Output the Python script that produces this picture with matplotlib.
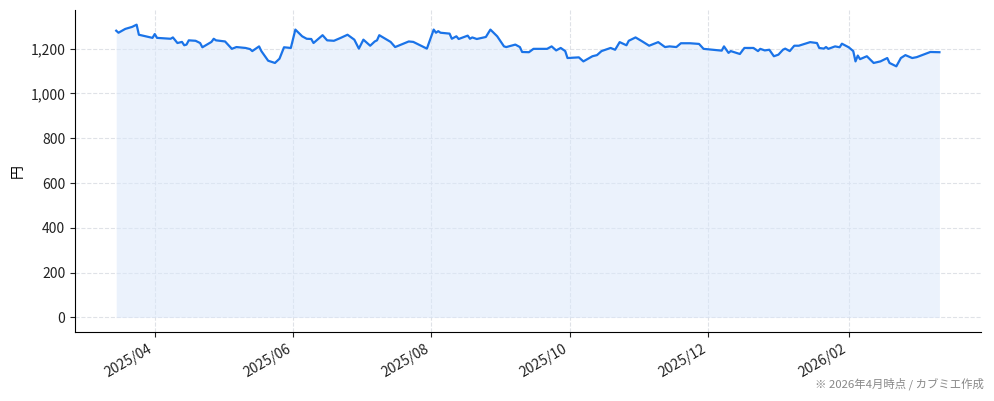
import matplotlib
matplotlib.use("Agg")
import matplotlib.pyplot as plt
import matplotlib.dates as mdates
import matplotlib.ticker as mticker
import pandas as pd

plt.rcParams['font.family'] = ['Noto Sans CJK JP', 'DejaVu Sans']

# 株価（円）: 図から読み取った概算値
dates = [
    "2025-03-15", "2025-03-16", "2025-03-19", "2025-03-22", "2025-03-24", "2025-03-25",
    "2025-03-28", "2025-03-31", "2025-04-01", "2025-04-02", "2025-04-08", "2025-04-09",
    "2025-04-11", "2025-04-13", "2025-04-14", "2025-04-15", "2025-04-16", "2025-04-19",
    "2025-04-21", "2025-04-22", "2025-04-24", "2025-04-26", "2025-04-27", "2025-04-28",
    "2025-05-02", "2025-05-05", "2025-05-07", "2025-05-11", "2025-05-13", "2025-05-14",
    "2025-05-17", "2025-05-18", "2025-05-21", "2025-05-24", "2025-05-26", "2025-05-28",
    "2025-05-31", "2025-06-02", "2025-06-05", "2025-06-07", "2025-06-09", "2025-06-10",
    "2025-06-14", "2025-06-16", "2025-06-19", "2025-06-22", "2025-06-25", "2025-06-28",
    "2025-06-30", "2025-07-02", "2025-07-05", "2025-07-07", "2025-07-08", "2025-07-09",
    "2025-07-14", "2025-07-16", "2025-07-22", "2025-07-24", "2025-07-30", "2025-08-02",
    "2025-08-03", "2025-08-04", "2025-08-05", "2025-08-09", "2025-08-10", "2025-08-12",
    "2025-08-13", "2025-08-17", "2025-08-18", "2025-08-19", "2025-08-21", "2025-08-25",
    "2025-08-27", "2025-08-30", "2025-09-02", "2025-09-03", "2025-09-07", "2025-09-09",
    "2025-09-10", "2025-09-13", "2025-09-15", "2025-09-21", "2025-09-23", "2025-09-25",
    "2025-09-27", "2025-09-29", "2025-09-30", "2025-10-05", "2025-10-07", "2025-10-11",
    "2025-10-13", "2025-10-15", "2025-10-19", "2025-10-21", "2025-10-23", "2025-10-26",
    "2025-10-27", "2025-10-30", "2025-11-02", "2025-11-05", "2025-11-09", "2025-11-12",
    "2025-11-14", "2025-11-17", "2025-11-19", "2025-11-23", "2025-11-27", "2025-11-29",
    "2025-12-07", "2025-12-08", "2025-12-10", "2025-12-11", "2025-12-15", "2025-12-17",
    "2025-12-21", "2025-12-23", "2025-12-24", "2025-12-26", "2025-12-28", "2025-12-30",
    "2026-01-01", "2026-01-03", "2026-01-04", "2026-01-06", "2026-01-08", "2026-01-10",
    "2026-01-15", "2026-01-18", "2026-01-19", "2026-01-21", "2026-01-22", "2026-01-23",
    "2026-01-26", "2026-01-28", "2026-01-29", "2026-02-01", "2026-02-03", "2026-02-04",
    "2026-02-05", "2026-02-06", "2026-02-09", "2026-02-12", "2026-02-15", "2026-02-18",
    "2026-02-19", "2026-02-22", "2026-02-24", "2026-02-26", "2026-03-01", "2026-03-03",
    "2026-03-09", "2026-03-13",
]
prices = [
    1280, 1271, 1288, 1297, 1307, 1262,
    1255, 1248, 1265, 1248, 1244, 1250,
    1225, 1230, 1215, 1218, 1237, 1235,
    1225, 1206, 1218, 1230, 1244, 1237,
    1232, 1199, 1207, 1203, 1198, 1189,
    1210, 1189, 1146, 1136, 1155, 1206,
    1203, 1285, 1255, 1244, 1243, 1225,
    1260, 1237, 1235, 1248, 1262, 1240,
    1200, 1240, 1213, 1232, 1237, 1260,
    1230, 1207, 1232, 1230, 1200, 1285,
    1271, 1278, 1271, 1267, 1244, 1255,
    1243, 1258, 1244, 1250, 1243, 1252,
    1285, 1255, 1210, 1207, 1218, 1207,
    1185, 1184, 1199, 1199, 1210, 1192,
    1203, 1189, 1158, 1161, 1143, 1166,
    1171, 1189, 1203, 1195, 1229, 1215,
    1235, 1250, 1232, 1213, 1229, 1207,
    1210, 1207, 1224, 1224, 1221, 1199,
    1191, 1210, 1181, 1189, 1176, 1203,
    1203, 1189, 1199, 1192, 1195, 1166,
    1173, 1195, 1200, 1189, 1213, 1213,
    1229, 1225, 1203, 1200, 1207, 1199,
    1210, 1206, 1222, 1206, 1189, 1143,
    1169, 1153, 1166, 1136, 1143, 1158,
    1136, 1121, 1158, 1171, 1158, 1162,
    1185, 1184,
]

x = pd.to_datetime(dates)

fig = plt.figure(figsize=(9.94, 4.01), dpi=100)
ax = fig.add_axes([0.0755, 0.172, 0.911, 0.803])

line_color = '#1a73e8'
ax.plot(x, prices, color=line_color, linewidth=1.6)
ax.fill_between(x, prices, 0, color='#dbe8fb', alpha=0.55, linewidth=0)

ax.grid(True, linestyle='--', color='#d8dbe2', linewidth=0.8, alpha=0.8)
ax.set_axisbelow(True)
for side in ['top', 'right']:
    ax.spines[side].set_visible(False)

ax.xaxis.set_major_locator(mdates.MonthLocator(bymonth=[2, 4, 6, 8, 10, 12]))
ax.xaxis.set_major_formatter(mdates.DateFormatter('%Y/%m'))
ax.yaxis.set_major_formatter(mticker.FuncFormatter(lambda v, p: f'{v:,.0f}'))
ax.yaxis.set_major_locator(mticker.MultipleLocator(200))
ax.tick_params(labelsize=10, colors='#222222')
for lab in ax.get_xticklabels():
    lab.set_rotation(30)
    lab.set_ha('right')

ax.set_ylabel('円', fontsize=10, labelpad=4)

fig.text(0.99, 0.042, '※ 2026年4月時点 / カブミエ作成', ha='right', va='center',
         fontsize=8.2, color='#888888')

fig.savefig('out.png', dpi=100)
